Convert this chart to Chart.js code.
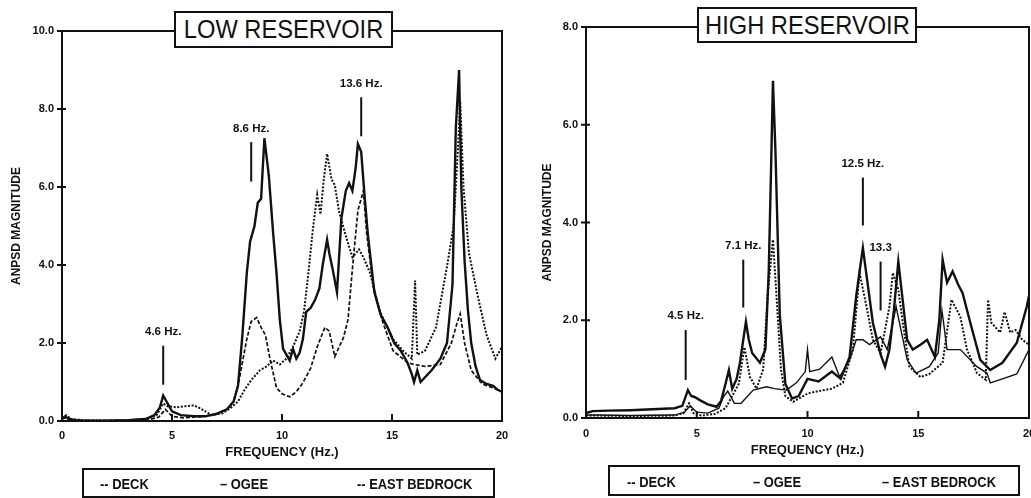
<!DOCTYPE html>
<html>
<head>
<meta charset="utf-8">
<script src="https://cdn.jsdelivr.net/npm/chart.js@4.4.1/dist/chart.umd.min.js"></script>
<style>
  html, body { margin:0; padding:0; background:#fff; }
  body { width:1031px; height:498px; position:relative; overflow:hidden; font-family:"Liberation Sans", Arial, sans-serif; color:#111; }
  canvas { position:absolute; top:0; }
  .ttl { position:absolute; border:2px solid #111; background:#fff; box-sizing:border-box; display:flex; align-items:center; justify-content:center; white-space:nowrap; }
  .ttl span { font-size:26px; display:inline-block; transform:scaleX(0.91); }
  .leg { position:absolute; border:2px solid #111; box-sizing:border-box; }
  .li { position:absolute; font-weight:bold; font-size:15px; line-height:15px; white-space:nowrap; transform-origin:0 50%; transform:scaleX(0.86); }
</style>
</head>
<body>
<canvas id="low" width="515" height="498" style="left:0"></canvas>
<canvas id="high" width="516" height="498" style="left:515px"></canvas>

<div class="ttl" style="left:174px;top:11px;width:219px;height:37px"><span>LOW RESERVOIR</span></div>
<div class="ttl" style="left:697px;top:7px;width:220px;height:36px"><span>HIGH RESERVOIR</span></div>

<div class="leg" style="left:82px;top:468px;width:413px;height:30px"></div>
<div class="li" style="left:100px;top:476px">-- DECK</div>
<div class="li" style="left:220px;top:476px">– OGEE</div>
<div class="li" style="left:357px;top:476px">-- EAST BEDROCK</div>

<div class="leg" style="left:608px;top:465px;width:412px;height:31px"></div>
<div class="li" style="left:627px;top:474px">-- DECK</div>
<div class="li" style="left:753px;top:474px">– OGEE</div>
<div class="li" style="left:882px;top:474px">– EAST BEDROCK</div>

<script>
// low reservoir
const lowOgeeHz = [0, 0.15, 0.3, 0.6, 1, 2, 3, 3.8, 4.2, 4.45, 4.6, 4.75, 5.0, 5.4, 6.0, 6.5, 7.0, 7.5, 7.8, 8.0, 8.2, 8.4, 8.55, 8.75, 8.9, 9.05, 9.2, 9.4, 9.6, 9.75, 9.9, 10.05, 10.2, 10.35, 10.5, 10.65, 10.8, 10.95, 11.1, 11.3, 11.5, 11.7, 11.85, 12.05, 12.15, 12.3, 12.5, 12.7, 12.9, 13.05, 13.2, 13.35, 13.45, 13.6, 13.75, 13.9, 14.2, 14.5, 14.8, 15.1, 15.4, 15.7, 15.9, 16.0, 16.15, 16.3, 16.8, 17.2, 17.5, 17.75, 17.9, 18.05, 18.15, 18.3, 18.45, 18.6, 18.8, 19.0, 19.3, 19.6, 19.8, 20]
const lowOgee = [0.05, 0.12, 0.05, 0.02, 0.01, 0.01, 0.02, 0.05, 0.15, 0.35, 0.65, 0.5, 0.25, 0.15, 0.12, 0.12, 0.18, 0.3, 0.5, 0.9, 2.2, 3.8, 4.6, 5.0, 5.6, 5.7, 7.25, 6.3, 4.8, 3.8, 2.6, 1.85, 1.7, 1.55, 1.85, 1.6, 1.75, 2.1, 2.8, 2.9, 3.1, 3.4, 4.0, 4.65, 4.3, 3.9, 3.3, 5.2, 5.9, 6.1, 5.9, 6.5, 7.1, 6.9, 5.8, 4.8, 3.3, 2.7, 2.4, 2.0, 1.8, 1.5, 1.2, 1.0, 1.3, 1.0, 1.3, 1.6, 2.0, 3.5, 7.5, 9.0, 6.0, 4.1, 2.85, 2.0, 1.4, 1.05, 0.95, 0.9, 0.8, 0.75]

const lowDeckHz = [0, 0.2, 0.4, 1, 2, 3, 3.8, 4.3, 4.6, 4.8, 5.2, 5.6, 6.0, 6.3, 6.8, 7.3, 7.7, 8.0, 8.3, 8.6, 9.0, 9.3, 9.6, 9.9, 10.2, 10.5, 10.8, 11.0, 11.2, 11.4, 11.6, 11.75, 11.9, 12.05, 12.25, 12.4, 12.6, 12.95, 13.2, 13.5, 13.7, 14.0, 14.45, 15.05, 15.5, 15.9, 16.05, 16.15, 16.5, 17.0, 17.5, 17.8, 18.0, 18.1, 18.25, 18.5, 18.9, 19.3, 19.7, 20]
const lowDeck = [0.08, 0.15, 0.05, 0.02, 0.01, 0.02, 0.05, 0.15, 0.45, 0.38, 0.35, 0.38, 0.4, 0.32, 0.15, 0.2, 0.35, 0.5, 0.8, 1.05, 1.3, 1.4, 1.55, 1.45, 1.6, 1.9, 2.3, 2.8, 3.8, 4.9, 5.8, 5.3, 6.2, 6.85, 6.2, 6.05, 5.35, 4.65, 4.2, 4.4, 4.2, 3.8, 2.8, 2.1, 1.8, 1.6, 3.6, 1.7, 1.8, 2.4, 3.96, 5.0, 7.0, 8.2, 6.0, 4.3, 3.2, 2.2, 1.6, 1.9]

const lowRockHz = [0, 0.25, 0.5, 1, 2, 3, 4.0, 4.4, 4.7, 5.0, 5.5, 6.0, 6.5, 7.0, 7.5, 7.8, 8.0, 8.2, 8.4, 8.6, 8.85, 9.05, 9.25, 9.45, 9.75, 10.0, 10.35, 10.65, 10.95, 11.3, 11.6, 11.95, 12.15, 12.4, 12.6, 12.8, 13.0, 13.2, 13.45, 13.7, 13.85, 14.15, 14.6, 15.05, 15.7, 16.0, 16.5, 17.2, 17.7, 17.95, 18.1, 18.3, 18.6, 19.1, 19.6, 20]
const lowRock = [0.05, 0.1, 0.03, 0.01, 0.01, 0.02, 0.04, 0.1, 0.3, 0.12, 0.08, 0.1, 0.12, 0.18, 0.3, 0.5, 0.9, 1.5, 2.1, 2.55, 2.65, 2.4, 2.2, 1.6, 0.85, 0.7, 0.62, 0.75, 0.98, 1.35, 1.9, 2.4, 2.3, 1.65, 1.9, 2.15, 2.6, 3.9, 5.4, 5.9, 4.8, 3.45, 2.5, 1.8, 1.5, 1.45, 1.4, 1.45, 2.0, 2.5, 2.75, 2.0, 1.3, 0.95, 0.85, 0.75]

const lowMarkHz = [4.6, 8.6, 13.6]
const lowMarkFrom = [0.93, 6.14, 7.3]
const lowMarkTo = [1.93, 7.15, 8.3]
const lowMarkText = ['4.6 Hz.', '8.6 Hz.', '13.6 Hz.']
const lowTicks = [0, 2, 4, 6, 8, 10]

// high reservoir
const highOgeeHz = [0, 0.3, 1, 2, 3, 4.0, 4.35, 4.6, 4.75, 4.9, 5.2, 5.5, 5.9, 6.1, 6.3, 6.45, 6.6, 6.8, 6.95, 7.1, 7.22, 7.35, 7.5, 7.85, 8.1, 8.25, 8.35, 8.44, 8.55, 8.75, 9.0, 9.3, 9.6, 10.0, 10.5, 11.1, 11.5, 11.9, 12.2, 12.5, 12.7, 12.95, 13.3, 13.5, 13.7, 13.9, 14.1, 14.3, 14.5, 14.75, 15.1, 15.4, 15.75, 15.95, 16.1, 16.3, 16.55, 16.8, 17.0, 17.35, 17.8, 18.25, 18.8, 19.45, 19.9, 20]
const highOgee = [0.1, 0.14, 0.15, 0.16, 0.18, 0.2, 0.25, 0.57, 0.45, 0.43, 0.35, 0.28, 0.23, 0.35, 0.7, 0.98, 0.6, 0.8, 1.13, 1.6, 1.97, 1.6, 1.33, 1.13, 1.4, 3.0, 5.0, 6.9, 5.5, 2.1, 0.7, 0.4, 0.45, 0.8, 0.75, 0.95, 0.8, 1.25, 2.5, 3.48, 2.8, 1.95, 1.3, 1.05, 1.4, 2.2, 3.2, 2.4, 1.6, 1.4, 1.5, 1.6, 1.25, 2.0, 3.24, 2.77, 3.0, 2.73, 2.56, 1.95, 1.19, 0.98, 1.13, 1.54, 2.28, 2.5]

const highDeckHz = [0, 0.5, 2, 4.0, 4.4, 4.65, 4.85, 5.2, 5.8, 6.3, 6.6, 6.9, 7.15, 7.4, 7.7, 8.0, 8.2, 8.44, 8.6, 8.8, 9.0, 9.35, 10.0, 10.5, 11.1, 11.6, 12.05, 12.35, 12.7, 12.95, 13.3, 13.7, 13.85, 14.1, 14.3, 14.6, 15.1, 15.5, 16.1, 16.5, 16.9, 17.2, 17.65, 18.05, 18.15, 18.3, 18.7, 18.9, 19.15, 19.4, 19.7, 20]
const highDeck = [0.05, 0.05, 0.04, 0.05, 0.1, 0.3, 0.1, 0.05, 0.08, 0.2, 0.45, 0.7, 1.45, 0.84, 0.6, 1.0, 2.5, 3.65, 2.5, 1.0, 0.45, 0.33, 0.5, 0.55, 0.6, 0.72, 1.4, 2.97, 2.2, 1.6, 1.33, 2.28, 2.97, 2.63, 1.95, 1.05, 0.84, 0.9, 1.13, 2.42, 2.07, 1.4, 0.92, 0.78, 2.42, 1.95, 1.75, 2.17, 1.75, 1.8, 1.6, 1.5]

const highRockHz = [0, 0.5, 2, 4.0, 4.45, 4.7, 5.0, 5.5, 6.0, 6.2, 6.4, 6.7, 7.0, 7.55, 8.15, 8.5, 9.05, 9.5, 9.9, 10.0, 10.1, 10.55, 11.1, 11.45, 11.9, 12.2, 12.5, 12.8, 13.3, 13.6, 14.0, 14.5, 14.9, 15.5, 15.9, 16.07, 16.3, 16.9, 17.65, 18.1, 18.25, 18.8, 19.45, 20]
const highRock = [0.06, 0.06, 0.05, 0.06, 0.12, 0.25, 0.12, 0.1, 0.2, 0.43, 0.55, 0.3, 0.3, 0.57, 0.64, 0.6, 0.57, 0.72, 0.95, 1.4, 0.95, 1.0, 1.25, 0.84, 1.19, 1.6, 1.6, 1.5, 1.66, 1.4, 2.28, 1.19, 0.92, 1.05, 1.33, 2.2, 1.4, 1.4, 1.05, 0.92, 0.72, 0.8, 0.9, 1.4]

const highMarkHz = [4.5, 7.1, 12.5, 13.3]
const highMarkFrom = [0.78, 2.26, 3.94, 2.2]
const highMarkTo = [1.8, 3.24, 4.92, 3.2]
const highMarkText = ['4.5 Hz.', '7.1 Hz.', '12.5 Hz.', '13.3']
const highTicks = [0, 2, 4, 6, 8]

const ink = '#111'
Chart.defaults.font.family = '"Liberation Sans", Arial, sans-serif'
Chart.defaults.color = ink

function pts(hz, vals) {
    return hz.map((f, i) => ({ x: f, y: vals[i] }))
}

function panel(id, p) {
    // frame, crossing y ticks and inward x ticks
    const frame = {
        id: 'frame',
        afterDraw(chart) {
            const { ctx, chartArea: a, scales: { x, y } } = chart
            ctx.save()
            ctx.strokeStyle = ink
            ctx.lineWidth = 2
            ctx.strokeRect(a.left, a.top, a.right - a.left, a.bottom - a.top)
            ctx.beginPath()
            x.ticks.forEach(t => {
                if (t.value > x.min && t.value < x.max) {
                    const px = x.getPixelForValue(t.value)
                    ctx.moveTo(px, a.bottom)
                    ctx.lineTo(px, a.bottom - 7)
                }
            })
            y.ticks.forEach(t => {
                const py = y.getPixelForValue(t.value)
                ctx.moveTo(a.left - 5, py)
                ctx.lineTo(a.left + 4, py)
            })
            ctx.stroke()
            ctx.restore()
        }
    }
    const markers = {
        id: 'markers',
        afterDatasetsDraw(chart) {
            const { ctx, scales: { x, y } } = chart
            ctx.save()
            ctx.strokeStyle = ink
            ctx.fillStyle = ink
            ctx.lineWidth = 2
            ctx.font = 'bold 11.5px "Liberation Sans", Arial, sans-serif'
            ctx.textAlign = 'center'
            ctx.textBaseline = 'bottom'
            p.markHz.forEach((f, i) => {
                const px = x.getPixelForValue(f)
                const top = y.getPixelForValue(p.markTo[i])
                const bot = y.getPixelForValue(p.markFrom[i])
                ctx.beginPath()
                ctx.moveTo(px, top)
                ctx.lineTo(px, bot)
                ctx.stroke()
                ctx.fillText(p.markText[i], px, top - 8)
            })
            ctx.restore()
        }
    }

    new Chart(document.getElementById(id), {
        type: 'line',
        data: {
            datasets: [
                { label: 'DECK', data: pts(p.deckHz, p.deck), borderColor: ink, borderWidth: 2, borderDash: [2, 1.6] },
                { label: 'OGEE', data: pts(p.ogeeHz, p.ogee), borderColor: ink, borderWidth: 2.4 },
                { label: 'EAST BEDROCK', data: pts(p.rockHz, p.rock), borderColor: ink, borderWidth: p.rockWidth, borderDash: p.rockDash }
            ]
        },
        options: {
            responsive: false,
            animation: false,
            events: [],
            layout: { padding: { left: 0, top: p.top, right: p.right, bottom: 0 } },
            elements: { point: { radius: 0 }, line: { tension: 0, fill: false } },
            plugins: { legend: { display: false }, tooltip: { enabled: false } },
            scales: {
                x: {
                    type: 'linear', min: 0, max: 20,
                    ticks: { stepSize: 5, padding: p.xPad, font: { size: 11, weight: 'bold' } },
                    grid: { display: false, drawTicks: false },
                    border: { display: false },
                    title: { display: true, text: 'FREQUENCY (Hz.)', font: { size: 13, weight: 'bold' }, padding: { top: 0, bottom: p.xTitlePad } },
                    afterFit(s) { s.height = p.xh; s.paddingLeft = 0; s.paddingRight = 0 }
                },
                y: {
                    type: 'linear', min: 0, max: p.ymax,
                    afterBuildTicks(s) { s.ticks = p.yTicks.map(v => ({ value: v })) },
                    ticks: { padding: 8, font: { size: 11, weight: 'bold' }, callback: v => v.toFixed(1) },
                    grid: { display: false, drawTicks: false },
                    border: { display: false },
                    title: { display: true, text: 'ANPSD MAGNITUDE', font: { size: 12, weight: 'bold' }, padding: { top: p.yTitlePad, bottom: 0 } },
                    afterFit(s) { s.width = p.yw; s.paddingTop = 0; s.paddingBottom = 0 }
                }
            }
        },
        plugins: [markers, frame]
    })
}

panel('low', {
    deckHz: lowDeckHz, deck: lowDeck, ogeeHz: lowOgeeHz, ogee: lowOgee, rockHz: lowRockHz, rock: lowRock,
    rockWidth: 1.7, rockDash: [4, 2],
    markHz: lowMarkHz, markFrom: lowMarkFrom, markTo: lowMarkTo, markText: lowMarkText,
    yTicks: lowTicks, ymax: 10,
    top: 31, right: 13, xh: 77, yw: 62, xPad: 8, xTitlePad: 38, yTitlePad: 9
})

panel('high', {
    deckHz: highDeckHz, deck: highDeck, ogeeHz: highOgeeHz, ogee: highOgee, rockHz: highRockHz, rock: highRock,
    rockWidth: 1.4, rockDash: [],
    markHz: highMarkHz, markFrom: highMarkFrom, markTo: highMarkTo, markText: highMarkText,
    yTicks: highTicks, ymax: 8,
    top: 27, right: 2, xh: 80, yw: 71, xPad: 9, xTitlePad: 40, yTitlePad: 25
})
</script>
</body>
</html>
